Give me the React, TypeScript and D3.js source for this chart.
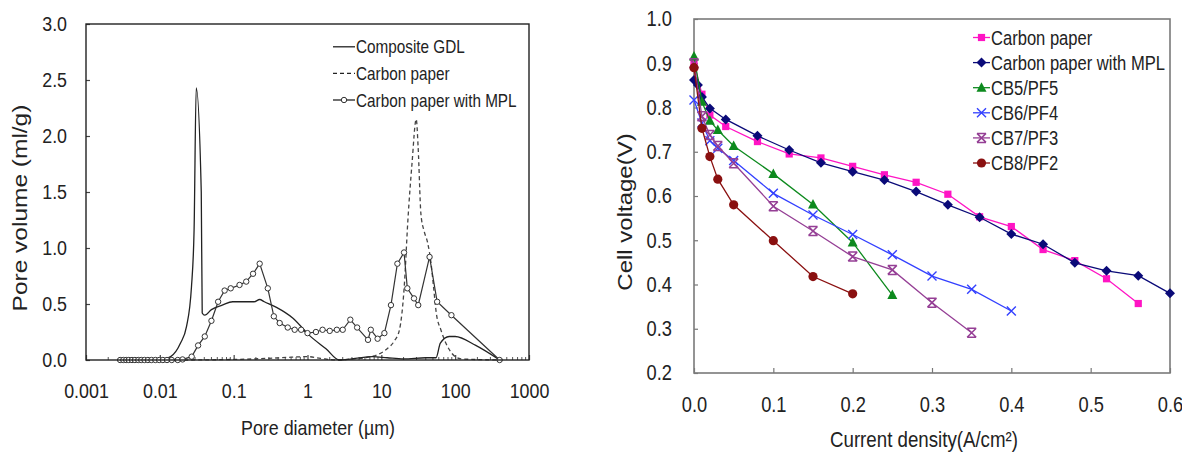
import { useEffect, useRef } from "react";
import * as d3 from "d3";

const W = 1182;
const H = 455;
// the source picture is squeezed sideways, so text is squeezed too
const SX = 0.85;
const FONT = "'Liberation Sans', Arial, sans-serif";

// ---- left chart: pore size distribution ----
const poreTicks = [0.001, 0.01, 0.1, 1, 10, 100, 1000];
const poreTickLabels = ["0.001", "0.01", "0.1", "1", "10", "100", "1000"];
const volTicks = [0, 0.5, 1, 1.5, 2, 2.5, 3];
const volTickLabels = ["0.0", "0.5", "1.0", "1.5", "2.0", "2.5", "3.0"];

const compositeD = [0.01, 0.014, 0.019, 0.023, 0.0268, 0.0291, 0.0311, 0.0364, 0.0375, 0.0406, 0.05, 0.07, 0.097, 0.15, 0.19, 0.225, 0.26, 0.38, 0.63, 1.06, 1.78, 2.7, 4, 7.6, 12, 20, 40, 55, 63, 83, 100, 190, 400];
const compositeV = [0, 0.03, 0.15, 0.3, 0.65, 1.16, 2.43, 1.5, 0.42, 0.4, 0.45, 0.49, 0.52, 0.52, 0.52, 0.54, 0.52, 0.47, 0.375, 0.22, 0.1, 0, 0.01, 0.03, 0.02, 0.01, 0.02, 0.02, 0.15, 0.21, 0.21, 0.13, 0];

const paperD = [0.003, 0.02, 0.1, 0.3, 0.6, 1.0, 1.5, 2.5, 4, 6, 9, 12, 15, 17.6, 20.4, 22.9, 26, 29.7, 31.5, 34.4, 38, 42.3, 47.2, 51, 55.5, 64, 75, 90, 120, 400];
const paperV = [0, 0, 0.005, 0.015, 0.025, 0.03, 0.015, 0, 0.01, 0.02, 0.05, 0.1, 0.17, 0.27, 0.65, 1.25, 1.75, 2.15, 1.9, 1.3, 1.15, 1.05, 0.86, 0.65, 0.42, 0.27, 0.15, 0.06, 0.01, 0];

const mplD = [0.0029, 0.0032, 0.0035, 0.0038, 0.0042, 0.0046, 0.0051, 0.0056, 0.0062, 0.0069, 0.0077, 0.0087, 0.0098, 0.011, 0.0125, 0.0145, 0.0175, 0.0203, 0.027, 0.033, 0.0406, 0.05, 0.0616, 0.0754, 0.0912, 0.12, 0.148, 0.183, 0.225, 0.29, 0.35, 0.42, 0.54, 0.67, 0.82, 1.0, 1.3, 1.6, 2.0, 2.5, 3.0, 3.8, 4.7, 6.6, 7.2, 8.9, 11, 13.5, 16.5, 20.3, 22.5, 27.7, 31.6, 45, 57, 89, 400];
const mplV = [0, 0, 0, 0, 0, 0, 0, 0, 0, 0, 0, 0, 0, 0, 0, 0, 0, 0.005, 0.03, 0.13, 0.21, 0.35, 0.52, 0.62, 0.64, 0.67, 0.7, 0.77, 0.86, 0.64, 0.39, 0.33, 0.29, 0.27, 0.27, 0.24, 0.25, 0.27, 0.26, 0.27, 0.27, 0.36, 0.29, 0.18, 0.27, 0.19, 0.24, 0.49, 0.86, 0.96, 0.64, 0.55, 0.49, 0.92, 0.52, 0.4, 0];

const poreLegend = ["Composite GDL", "Carbon paper", "Carbon paper with MPL"];

// ---- right chart: polarization curves ----
const currentTicks = [0, 0.1, 0.2, 0.3, 0.4, 0.5, 0.6];
const currentTickLabels = ["0.0", "0.1", "0.2", "0.3", "0.4", "0.5", "0.6"];
const voltTicks = [0.2, 0.3, 0.4, 0.5, 0.6, 0.7, 0.8, 0.9, 1.0];
const voltTickLabels = ["0.2", "0.3", "0.4", "0.5", "0.6", "0.7", "0.8", "0.9", "1.0"];

const paperI = [0, 0.01, 0.02, 0.04, 0.08, 0.12, 0.16, 0.2, 0.24, 0.28, 0.32, 0.36, 0.4, 0.44, 0.48, 0.52, 0.56];
const paperU = [0.9, 0.83, 0.783, 0.757, 0.723, 0.695, 0.686, 0.667, 0.648, 0.631, 0.604, 0.553, 0.531, 0.479, 0.454, 0.413, 0.357];

const mplI = [0, 0.005, 0.01, 0.02, 0.04, 0.08, 0.12, 0.16, 0.2, 0.24, 0.28, 0.32, 0.36, 0.4, 0.44, 0.48, 0.52, 0.56, 0.6];
const mplU = [0.862, 0.851, 0.824, 0.798, 0.773, 0.736, 0.704, 0.675, 0.655, 0.636, 0.61, 0.58, 0.552, 0.514, 0.491, 0.449, 0.431, 0.42, 0.38];

const cb5I = [0, 0.01, 0.02, 0.03, 0.05, 0.1, 0.15, 0.2, 0.25];
const cb5U = [0.915, 0.813, 0.77, 0.749, 0.713, 0.65, 0.581, 0.495, 0.376];

const cb6I = [0, 0.01, 0.02, 0.03, 0.05, 0.1, 0.15, 0.2, 0.25, 0.3, 0.35, 0.4];
const cb6U = [0.817, 0.765, 0.725, 0.708, 0.68, 0.606, 0.557, 0.513, 0.467, 0.419, 0.389, 0.34];

const cb7I = [0, 0.01, 0.02, 0.03, 0.05, 0.1, 0.15, 0.2, 0.25, 0.3, 0.35];
const cb7U = [0.9, 0.78, 0.738, 0.713, 0.674, 0.577, 0.521, 0.463, 0.433, 0.359, 0.291];

const cb8I = [0, 0.01, 0.02, 0.03, 0.05, 0.1, 0.15, 0.2];
const cb8U = [0.89, 0.753, 0.689, 0.638, 0.58, 0.499, 0.418, 0.379];

const cellSeries = [
  { name: "Carbon paper", color: "#ff14c4", marker: "square", xs: paperI, ys: paperU },
  { name: "Carbon paper with MPL", color: "#0a0a78", marker: "diamond", xs: mplI, ys: mplU },
  { name: "CB5/PF5", color: "#0d8a1e", marker: "triangle", xs: cb5I, ys: cb5U },
  { name: "CB6/PF4", color: "#3340ff", marker: "x", xs: cb6I, ys: cb6U },
  { name: "CB7/PF3", color: "#953f95", marker: "star", xs: cb7I, ys: cb7U },
  { name: "CB8/PF2", color: "#8a1010", marker: "circle", xs: cb8I, ys: cb8U },
];

type Sel = d3.Selection<any, unknown, null, undefined>;

function squeezedText(g: Sel, x: number, y: number, str: string, size: number, anchor = "start", rotate = false) {
  const t = g
    .append("g")
    .attr("transform", rotate ? `translate(${x},${y}) rotate(-90) scale(1,${SX})` : `translate(${x},${y}) scale(${SX},1)`);
  return t
    .append("text")
    .attr("text-anchor", anchor)
    .attr("font-size", size)
    .attr("font-family", FONT)
    .attr("fill", "#222")
    .text(str);
}

function styleAxis(ax: Sel, size: number, tickColor: string) {
  ax.select(".domain").remove();
  ax.selectAll(".tick line").attr("stroke", tickColor).attr("stroke-width", 1.2);
  ax.selectAll(".tick text")
    .attr("font-size", size)
    .attr("font-family", FONT)
    .attr("fill", "#222")
    .attr("transform", `scale(${SX},1)`);
}

function drawMarker(g: Sel, type: string, cx: number, cy: number, color: string) {
  const m = g.append("g").attr("transform", `translate(${cx},${cy})`);
  if (type === "square") m.append("rect").attr("x", -3.6).attr("y", -3.6).attr("width", 7.2).attr("height", 7.2).attr("fill", color);
  else if (type === "diamond") m.append("path").attr("d", "M0,-5L5,0L0,5L-5,0Z").attr("fill", color);
  else if (type === "triangle") m.append("path").attr("d", "M0,-5.5L5,4L-5,4Z").attr("fill", color);
  else if (type === "circle") m.append("circle").attr("r", 4.6).attr("fill", color);
  else if (type === "x")
    m.append("path").attr("d", "M-4.5,-4.5L4.5,4.5M4.5,-4.5L-4.5,4.5").attr("stroke", color).attr("stroke-width", 1.4).attr("fill", "none");
  else
    m.append("path")
      .attr("d", "M-4.5,-4.5L4.5,4.5M4.5,-4.5L-4.5,4.5M-4.5,-4.5L4.5,-4.5M-4.5,4.5L4.5,4.5")
      .attr("stroke", color)
      .attr("stroke-width", 1.5)
      .attr("fill", "none");
}

function drawPoreChart(svg: Sel) {
  const x = d3.scaleLog().domain([0.001, 1000]).range([86, 529]);
  const y = d3.scaleLinear().domain([0, 3]).range([360, 24]);
  const g = svg.append("g");

  // minor log ticks pointing inward
  const minor = x.ticks().filter((t) => !poreTicks.some((p) => Math.abs(p - t) / p < 1e-6));
  g.append("g")
    .selectAll("line")
    .data(minor)
    .enter()
    .append("line")
    .attr("x1", (d) => x(d))
    .attr("x2", (d) => x(d))
    .attr("y1", y(0))
    .attr("y2", y(0) - 3)
    .attr("stroke", "#555")
    .attr("stroke-width", 1);

  const xAxis = g
    .append("g")
    .attr("transform", `translate(0,${y(0)})`)
    .call(d3.axisBottom(x).tickValues(poreTicks).tickFormat((_d, i) => poreTickLabels[i]).tickSize(-5).tickPadding(23));
  styleAxis(xAxis, 21, "#444");

  const yAxis = g
    .append("g")
    .attr("transform", `translate(${x(0.001)},0)`)
    .call(d3.axisLeft(y).tickValues(volTicks).tickFormat((_d, i) => volTickLabels[i]).tickSize(-4).tickPadding(19 / SX));
  styleAxis(yAxis, 21, "#444");

  const line = d3
    .line<[number, number]>()
    .x((d) => x(d[0]))
    .y((d) => y(d[1]))
    .curve(d3.curveMonotoneX);

  const composite = compositeD.map((d, i) => [d, compositeV[i]] as [number, number]);
  const paper = paperD.map((d, i) => [d, paperV[i]] as [number, number]);
  const mpl = mplD.map((d, i) => [d, mplV[i]] as [number, number]);

  g.append("path").attr("d", line(paper)).attr("fill", "none").attr("stroke", "#444").attr("stroke-width", 1.3).attr("stroke-dasharray", "4,3");
  g.append("path").attr("d", line(composite)).attr("fill", "none").attr("stroke", "#222").attr("stroke-width", 1.3);
  g.append("path")
    .attr("d", d3.line<[number, number]>().x((d) => x(d[0])).y((d) => y(d[1]))(mpl))
    .attr("fill", "none")
    .attr("stroke", "#333")
    .attr("stroke-width", 1.2);
  g.append("g")
    .selectAll("circle")
    .data(mpl)
    .enter()
    .append("circle")
    .attr("cx", (d) => x(d[0]))
    .attr("cy", (d) => y(d[1]))
    .attr("r", 2.7)
    .attr("fill", "white")
    .attr("stroke", "#333")
    .attr("stroke-width", 1);

  // frame
  g.append("rect")
    .attr("x", x(0.001))
    .attr("y", y(3))
    .attr("width", x(1000) - x(0.001))
    .attr("height", y(0) - y(3))
    .attr("fill", "none")
    .attr("stroke", "#222")
    .attr("stroke-width", 1.4);

  // legend
  const leg = g.append("g");
  poreLegend.forEach((name, i) => {
    const ly = 46.8 + i * 26.6;
    const l = leg.append("line").attr("x1", 333).attr("x2", 355).attr("y1", ly).attr("y2", ly).attr("stroke", "#222").attr("stroke-width", 1.3);
    if (i === 1) l.attr("stroke-dasharray", "4,3");
    if (i === 2) leg.append("circle").attr("cx", 344).attr("cy", ly).attr("r", 2.7).attr("fill", "white").attr("stroke", "#333");
    squeezedText(leg, 356, ly + 6.5, name, 18);
  });

  squeezedText(g, 318, 435, "Pore diameter (µm)", 21, "middle");
  squeezedText(g, 27, 208, "Pore volume (ml/g)", 24.5, "middle", true);
}

function drawCellChart(svg: Sel) {
  const x = d3.scaleLinear().domain([0, 0.6]).range([694, 1170]);
  const y = d3.scaleLinear().domain([0.2, 1.0]).range([373, 19]);
  const g = svg.append("g");

  const xAxis = g
    .append("g")
    .attr("transform", `translate(0,${y(0.2)})`)
    .call(d3.axisBottom(x).tickValues(currentTicks).tickFormat((_d, i) => currentTickLabels[i]).tickSize(-5).tickPadding(24));
  styleAxis(xAxis, 21.5, "#777");

  const yAxis = g
    .append("g")
    .attr("transform", `translate(${x(0)},0)`)
    .call(d3.axisLeft(y).tickValues(voltTicks).tickFormat((_d, i) => voltTickLabels[i]).tickSize(-4).tickPadding(22 / SX));
  styleAxis(yAxis, 21.5, "#777");

  g.append("rect")
    .attr("x", x(0))
    .attr("y", y(1.0))
    .attr("width", x(0.6) - x(0))
    .attr("height", y(0.2) - y(1.0))
    .attr("fill", "none")
    .attr("stroke", "#7a7a7a")
    .attr("stroke-width", 1.6);

  const line = d3
    .line<[number, number]>()
    .x((d) => x(d[0]))
    .y((d) => y(d[1]));

  cellSeries.forEach((s) => {
    const pts = s.xs.map((v, i) => [v, s.ys[i]] as [number, number]);
    g.append("path").attr("d", line(pts)).attr("fill", "none").attr("stroke", s.color).attr("stroke-width", 1.3);
    pts.forEach((p) => drawMarker(g, s.marker, x(p[0]), y(p[1]), s.color));
  });

  // legend
  const leg = g.append("g");
  cellSeries.forEach((s, i) => {
    const ly = 37.5 + i * 25.1;
    leg.append("line").attr("x1", 973).attr("x2", 990).attr("y1", ly).attr("y2", ly).attr("stroke", s.color).attr("stroke-width", 1.3);
    drawMarker(leg, s.marker, 981.5, ly, s.color);
    squeezedText(leg, 991, ly + 7.3, s.name, 19.5);
  });

  squeezedText(g, 924, 447, "Current density(A/cm²)", 22, "middle");
  squeezedText(g, 632, 212, "Cell voltage(V)", 24, "middle", true);
}

export default function App() {
  const ref = useRef<SVGSVGElement | null>(null);

  useEffect(() => {
    const svg = d3.select(ref.current) as unknown as Sel;
    svg.selectAll("*").remove();
    svg.append("rect").attr("width", W).attr("height", H).attr("fill", "white");
    drawPoreChart(svg);
    drawCellChart(svg);
  }, []);

  return <svg ref={ref} width={W} height={H} style={{ position: "absolute", left: 0, top: 0, background: "white" }} />;
}
